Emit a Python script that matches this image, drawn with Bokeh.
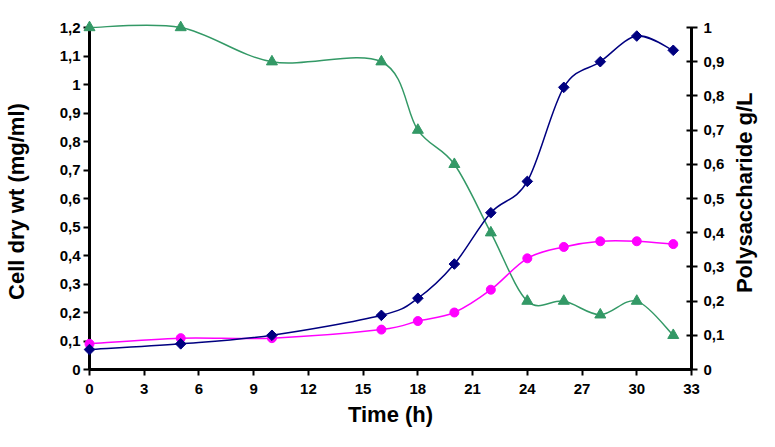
from bokeh.plotting import figure
from bokeh.models import Range1d, LinearAxis, FixedTicker, ColumnDataSource, CustomJSTickFormatter
from bokeh.core.properties import value
from bokeh.embed import file_html
from bokeh.resources import INLINE
import math

# ---- data ----
time_h = [0, 5, 10, 16, 18, 20, 22, 24, 26, 28, 30, 32]
cell_dry_wt_blue = [0.07, 0.09, 0.12, 0.19, 0.25, 0.37, 0.55, 0.66, 0.99, 1.08, 1.17, 1.12]
cell_dry_wt_magenta = [0.09, 0.11, 0.11, 0.14, 0.17, 0.20, 0.28, 0.39, 0.43, 0.45, 0.45, 0.44]
polysaccharide = [1.0, 1.0, 0.9, 0.9, 0.7, 0.6, 0.4, 0.2, 0.2, 0.16, 0.2, 0.1]

x_ticks = [0, 3, 6, 9, 12, 15, 18, 21, 24, 27, 30, 33]
left_ticks = [0, 0.1, 0.2, 0.3, 0.4, 0.5, 0.6, 0.7, 0.8, 0.9, 1.0, 1.1, 1.2]
right_ticks = [0, 0.1, 0.2, 0.3, 0.4, 0.5, 0.6, 0.7, 0.8, 0.9, 1.0]

left_title = "Cell dry wt  (mg/ml)"
right_title = "Polysaccharide g/L"
x_title = "Time (h)"

NAVY = "#000080"
MAGENTA = "#FF00FF"
GREEN = "#339966"
FONT = "Liberation Sans"


def smooth_source(xs, ys):
    """Bezier segments (Catmull-Rom style smoothing, like Excel's smoothed lines)."""
    n = len(xs)
    d = dict(x0=[], y0=[], x1=[], y1=[], cx0=[], cy0=[], cx1=[], cy1=[])
    for i in range(n - 1):
        i0 = max(i - 1, 0)
        i3 = min(i + 2, n - 1)
        d["x0"].append(xs[i]); d["y0"].append(ys[i])
        d["x1"].append(xs[i + 1]); d["y1"].append(ys[i + 1])
        d["cx0"].append(xs[i] + (xs[i + 1] - xs[i0]) / 6.0)
        d["cy0"].append(ys[i] + (ys[i + 1] - ys[i0]) / 6.0)
        d["cx1"].append(xs[i + 1] - (xs[i3] - xs[i]) / 6.0)
        d["cy1"].append(ys[i + 1] - (ys[i3] - ys[i]) / 6.0)
    return ColumnDataSource(d)


p = figure(width=759, height=431, x_range=Range1d(0, 33), y_range=Range1d(0, 1.2),
           output_backend="svg", toolbar_location=None,
           min_border_left=86, min_border_right=68, min_border_top=27, min_border_bottom=62)
p.extra_y_ranges = {"right": Range1d(0, 1)}
p.outline_line_color = None
p.xgrid.visible = False
p.ygrid.visible = False
p.background_fill_color = "white"
p.border_fill_color = "white"

comma_fmt = CustomJSTickFormatter(code="""
var s = (Math.round(tick*10)/10).toString();
return s.replace('.', ',');
""")

# left axis
ya = p.yaxis[0]
ya.ticker = FixedTicker(ticks=left_ticks)
ya.formatter = comma_fmt
ya.axis_label = left_title
ya.axis_label_text_font = FONT
ya.axis_label_text_font_style = "bold"
ya.axis_label_text_font_size = "22px"
ya.axis_label_text_color = "black"
ya.axis_label_standoff = 28
ya.major_label_text_font = FONT
ya.major_label_text_font_style = "bold"
ya.major_label_text_font_size = "15px"
ya.major_label_text_color = "black"
ya.major_label_standoff = 3
ya.major_tick_in = 0
ya.major_tick_out = 6
ya.minor_tick_line_color = None
ya.axis_line_width = 3
ya.major_tick_line_width = 2

# bottom axis
xa = p.xaxis[0]
xa.ticker = FixedTicker(ticks=x_ticks)
xa.axis_label = x_title
xa.axis_label_text_font = FONT
xa.axis_label_text_font_style = "bold"
xa.axis_label_text_font_size = "22px"
xa.axis_label_text_color = "black"
xa.axis_label_standoff = 5
xa.major_label_text_font = FONT
xa.major_label_text_font_style = "bold"
xa.major_label_text_font_size = "15px"
xa.major_label_text_color = "black"
xa.major_label_standoff = 8
xa.major_tick_in = 0
xa.major_tick_out = 6
xa.minor_tick_line_color = None
xa.axis_line_width = 3
xa.major_tick_line_width = 2

# right axis
ra = LinearAxis(y_range_name="right", ticker=FixedTicker(ticks=right_ticks), formatter=comma_fmt)
ra.major_label_text_font = FONT
ra.major_label_text_font_style = "bold"
ra.major_label_text_font_size = "15px"
ra.major_label_text_color = "black"
ra.major_label_standoff = 6
ra.major_tick_in = 5
ra.major_tick_out = 6
ra.minor_tick_line_color = None
ra.axis_line_width = 3
ra.major_tick_line_width = 2
p.add_layout(ra, "right")

# right axis title (reads bottom-to-top, as in the reference)
rt = p.text(x=[35.9], y=[0.62], text=[right_title], angle=math.pi / 2,
            text_align="center", text_baseline="middle", text_font=value(FONT),
            text_font_style="bold", text_font_size="22px", text_color="black")
rt.level = "overlay"

# curves
r1 = p.bezier(x0="x0", y0="y0", x1="x1", y1="y1", cx0="cx0", cy0="cy0", cx1="cx1", cy1="cy1",
              source=smooth_source(time_h, polysaccharide), line_color=GREEN, line_width=1.5,
              y_range_name="right")
r2 = p.bezier(x0="x0", y0="y0", x1="x1", y1="y1", cx0="cx0", cy0="cy0", cx1="cx1", cy1="cy1",
              source=smooth_source(time_h, cell_dry_wt_magenta), line_color=MAGENTA, line_width=1.5)
r3 = p.bezier(x0="x0", y0="y0", x1="x1", y1="y1", cx0="cx0", cy0="cy0", cx1="cx1", cy1="cy1",
              source=smooth_source(time_h, cell_dry_wt_blue), line_color=NAVY, line_width=1.5)

m1 = p.scatter(time_h, polysaccharide, marker="triangle", size=11, color=GREEN, y_range_name="right")
m2 = p.scatter(time_h, cell_dry_wt_magenta, marker="circle", size=9, color=MAGENTA)
m3 = p.scatter(time_h, cell_dry_wt_blue, marker="square", angle=math.pi / 4, size=7.5, color=NAVY)

for r in (r1, r2, r3, m1, m2, m3):
    r.level = "overlay"

open("out.html", "w").write(file_html(p, INLINE))
